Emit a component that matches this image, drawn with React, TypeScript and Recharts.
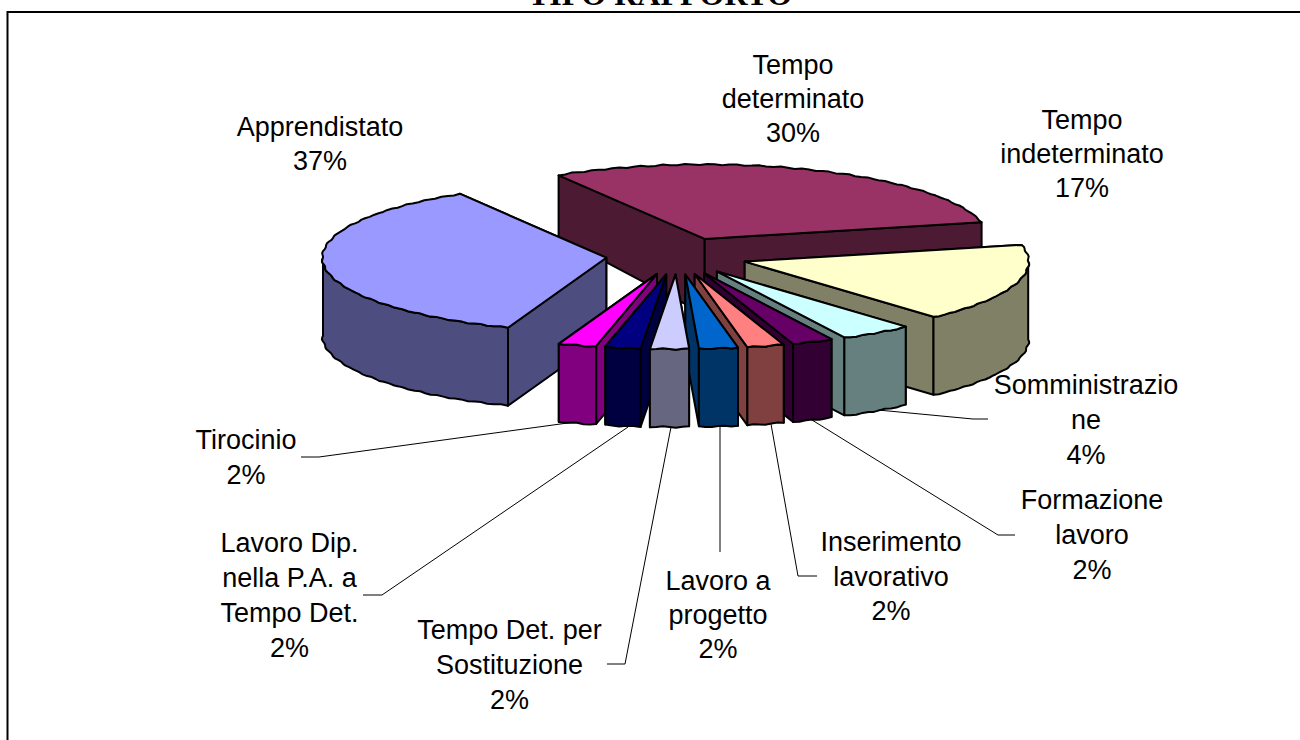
import React from "react";
import { PieChart, Pie, Cell } from "recharts";

const names = ["Tempo determinato", "Tempo indeterminato", "Somministrazione", "Formazione lavoro", "Inserimento lavorativo", "Lavoro a progetto", "Tempo Det. per Sostituzione", "Lavoro Dip. nella P.A. a Tempo Det.", "Tirocinio", "Apprendistato"];
const values = [30, 17, 4.2, 2.35, 2.1, 2.2, 2.2, 2.0, 2.2, 35.75];
const printedPercents = [30, 17, 4, 2, 2, 2, 2, 2, 2, 37];
const labelLines = [
  ["Tempo", "determinato"],
  ["Tempo", "indeterminato"],
  ["Somministrazio", "ne"],
  ["Formazione", "lavoro"],
  ["Inserimento", "lavorativo"],
  ["Lavoro a", "progetto"],
  ["Tempo Det. per", "Sostituzione"],
  ["Lavoro Dip.", "nella P.A. a", "Tempo Det."],
  ["Tirocinio"],
  ["Apprendistato"],
];
const colors = ["#993366", "#FFFFCC", "#CCFFFF", "#660066", "#FF8080", "#0066CC", "#CCCCFF", "#000080", "#FF00FF", "#9999FF"];

// painter's order of the slices: back and right first, front centre last
const drawOrder = [0, 1, 2, 3, 4, 5, 9, 8, 7, 6];

// layout of the label blocks: centre x, y of first line, line step, leader polyline
const labelLayout: { x: number; y: number; step: number; leader?: number[][] }[] = [
  { x: 793, y: 65, step: 34 },
  { x: 1082, y: 120, step: 34 },
  { x: 1086, y: 385, step: 35, leader: [[878, 410], [973, 419], [988, 419]] },
  { x: 1092, y: 500, step: 35, leader: [[812, 420], [998, 535], [1015, 535]] },
  { x: 891, y: 542, step: 34.5, leader: [[771, 424], [798, 576], [817, 576]] },
  { x: 718, y: 581, step: 34, leader: [[720, 427], [720, 552]] },
  { x: 509.5, y: 630, step: 35, leader: [[671, 427], [625, 664], [607, 664]] },
  { x: 289.5, y: 543, step: 35, leader: [[628, 427], [382, 595], [363, 595]] },
  { x: 246, y: 440, step: 35, leader: [[575, 422], [319, 457], [301, 457]] },
  { x: 320, y: 127, step: 34 },
];

const TILT = 0.262;
const EXPLODE = 71;
const BASE_DEPTH = 78;

const rad = (d: number) => (d * Math.PI) / 180;
const depthAt = (y: number) => BASE_DEPTH - Math.max(0, 250 - y) * 0.22;
const shade = (hex: string) => {
  const n = parseInt(hex.slice(1), 16);
  const c = (s: number) => Math.round(((n >> s) & 255) / 2).toString(16).padStart(2, "0");
  return "#" + c(16) + c(8) + c(0);
};
const pathOf = (pts: number[][]) => "M" + pts.map((p) => p[0].toFixed(1) + "," + p[1].toFixed(1)).join("L") + "Z";

function Slice3D(props: any) {
  const { cx, cy, outerRadius: R, startAngle, endAngle, fill } = props;
  const t0 = 90 - startAngle;
  const t1 = 90 - endAngle;
  const mid = (t0 + t1) / 2;
  const ax = cx + EXPLODE * Math.sin(rad(mid));
  const ay = cy - EXPLODE * Math.cos(rad(mid)) * TILT;
  const rim = (t: number) => [
    ax + (R + 0.8 * Math.sin(t * 0.9)) * Math.sin(rad(t)),
    ay - (R + 2.5 * Math.sin(t * 1.3)) * Math.cos(rad(t)) * TILT,
  ];
  const down = (p: number[]) => [p[0], p[1] + depthAt(p[1])];
  const arc = (a: number, b: number) => {
    const out: number[][] = [];
    const n = Math.max(2, Math.ceil((b - a) / 1.5));
    for (let i = 0; i <= n; i++) out.push(rim(a + ((b - a) * i) / n));
    return out;
  };
  const apex = [ax, ay];
  const wall = (pts: number[][]) => pathOf([...pts, ...pts.map(down).reverse()]);
  const side = shade(fill);
  const s0 = ((t0 % 360) + 360) % 360;
  const s1 = ((t1 % 360) + 360) % 360;
  const startWall = wall([apex, rim(t0)]);
  const endWall = wall([apex, rim(t1)]);
  const startVisible = Math.sin(rad(s0)) < 0;
  const endVisible = Math.sin(rad(s1)) > 0;
  const lo = Math.max(t0, 90);
  const hi = Math.min(t1, 270);
  const common = { stroke: "#000", strokeWidth: 2, strokeLinejoin: "round" as const };
  return (
    <g>
      {!startVisible && <path d={startWall} fill={side} {...common} />}
      {!endVisible && <path d={endWall} fill={side} {...common} />}
      {startVisible && <path d={startWall} fill={side} {...common} />}
      {endVisible && <path d={endWall} fill={side} {...common} />}
      {hi > lo && <path d={wall(arc(lo, hi))} fill={side} {...common} />}
      <path d={pathOf([apex, ...arc(t0, t1)])} fill={fill} {...common} />
    </g>
  );
}

const layerShape = (only: number) => (props: any) =>
  props.name === names[only] ? <Slice3D {...props} /> : <g />;

function SliceLabel(props: any) {
  const { index } = props;
  const l = labelLayout[index];
  const lines = [...labelLines[index], printedPercents[index] + "%"];
  return (
    <g>
      {l.leader && (
        <polyline points={l.leader.map((p) => p.join(",")).join(" ")} fill="none" stroke="#000" strokeWidth={1} />
      )}
      {lines.map((t, i) => (
        <text
          key={i}
          x={l.x}
          y={l.y + i * l.step}
          textAnchor="middle"
          dominantBaseline="central"
          fontFamily="'Liberation Sans', Arial, sans-serif"
          fontSize={27}
          fill="#000"
        >
          {t}
        </text>
      ))}
    </g>
  );
}

const data = names.map((name, i) => ({ name, value: values[i] }));

export default function App() {
  return (
    <div style={{ position: "absolute", left: 0, top: 0, width: 1300, height: 740, background: "#fff", overflow: "hidden" }}>
      <PieChart width={1300} height={740} margin={{ top: 0, right: 0, bottom: 0, left: 0 }}>
        <rect x={7.5} y={12} width={1400} height={800} fill="#fff" stroke="#000" strokeWidth={2} />
        <text x={660} y={5} textAnchor="middle" fontFamily="'Liberation Serif', serif" fontWeight="bold" fontSize={32} fill="#000">
          TIPO RAPPORTO
        </text>
        {drawOrder.map((only, layer) => (
          <Pie
            key={only}
            data={data}
            dataKey="value"
            nameKey="name"
            cx={677}
            cy={256}
            outerRadius={284}
            startAngle={121}
            endAngle={-239}
            isAnimationActive={false}
            shape={layerShape(only)}
            label={layer === drawOrder.length - 1 ? SliceLabel : false}
            labelLine={false}
            stroke="#000"
          >
            {data.map((d, i) => (
              <Cell key={d.name} fill={colors[i]} />
            ))}
          </Pie>
        ))}
      </PieChart>
    </div>
  );
}
